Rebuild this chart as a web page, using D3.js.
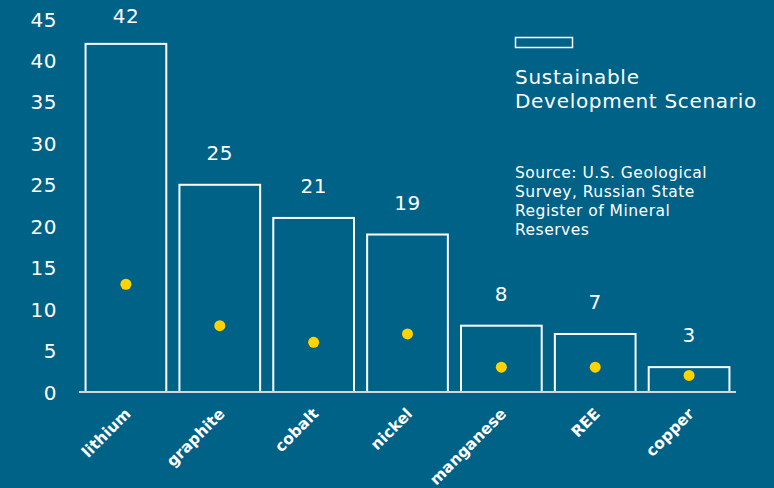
<!DOCTYPE html>
<html><head><meta charset="utf-8">
<script src="https://cdn.jsdelivr.net/npm/d3@7"></script>
<style>html,body{margin:0;padding:0;background:#016287;}svg{display:block;}</style>
</head><body>
<svg id="c" width="774" height="488"></svg>
<script>
const categories = ["lithium","graphite","cobalt","nickel","manganese","REE","copper"];
const sdsValues = [42,25,21,19,8,7,3];
const dotValues = [13,8,6,7,3,3,2];
const yTicks = [0,5,10,15,20,25,30,35,40,45];
const legendLabel = ["Sustainable","Development Scenario"];
const sourceLines = ["Source: U.S. Geological","Survey, Russian State","Register of Mineral","Reserves"];

const svg = d3.select("#c");
const font = "Verdana, 'DejaVu Sans', sans-serif";
svg.append("rect").attr("width",774).attr("height",488).attr("fill","#016287");

const x = d3.scaleBand().domain(categories).range([79,736]).paddingInner(0.14).paddingOuter(0.07);
const y = d3.scaleLinear().domain([0,45]).range([392,19]);

// y axis labels
const ya = svg.append("g").attr("transform","translate(57,0)")
  .call(d3.axisLeft(y).tickValues(yTicks).tickSize(0).tickPadding(0));
ya.select(".domain").remove();
ya.selectAll("text").attr("fill","#fff").attr("font-size",20).attr("font-family",font).attr("dy","0.35em").attr("letter-spacing","0.5px");

// bars
svg.append("g").selectAll("rect").data(categories).join("rect")
  .attr("x",d=>x(d)).attr("width",x.bandwidth())
  .attr("y",(d,i)=>y(sdsValues[i])).attr("height",(d,i)=>y(0)-y(sdsValues[i]))
  .attr("fill","none").attr("stroke","#fff").attr("stroke-width",2);

// baseline
svg.append("line").attr("x1",79).attr("x2",736).attr("y1",y(0)).attr("y2",y(0))
  .attr("stroke","#d4d4d4").attr("stroke-width",2);

// value labels
svg.append("g").selectAll("text").data(categories).join("text")
  .attr("x",d=>x(d)+x.bandwidth()/2).attr("y",(d,i)=>Math.max(y(sdsValues[i])-32,16))
  .attr("dy","0.35em")
  .attr("text-anchor","middle").attr("fill","#fff").attr("font-size",20).attr("font-family",font).attr("letter-spacing","0.5px")
  .text((d,i)=>sdsValues[i]);

// dots
svg.append("g").selectAll("circle").data(categories).join("circle")
  .attr("cx",d=>x(d)+x.bandwidth()/2).attr("cy",(d,i)=>y(dotValues[i]))
  .attr("r",5.5).attr("fill","#FFD200");

// x labels
svg.append("g").selectAll("text").data(categories).join("text")
  .attr("transform",d=>`translate(${x(d)+x.bandwidth()/2+2},${y(0)+19}) rotate(-45)`)
  .attr("text-anchor","end").attr("dy","0.35em").attr("fill","#fff").attr("font-weight","bold")
  .attr("font-size",15.5).attr("font-family",font).text(d=>d);

// legend
svg.append("rect").attr("x",515.5).attr("y",37.5).attr("width",57).attr("height",10)
  .attr("fill","none").attr("stroke","#fff").attr("stroke-width",1.5);
svg.append("g").selectAll("text").data(legendLabel).join("text")
  .attr("x",515).attr("y",(d,i)=>84+i*24).attr("fill","#fff").attr("font-size",20).attr("letter-spacing","0.7px").attr("font-family",font).text(d=>d);
svg.append("g").selectAll("text").data(sourceLines).join("text")
  .attr("x",515).attr("y",(d,i)=>178+i*19).attr("fill","#fff").attr("font-size",15.5).attr("letter-spacing","0.5px").attr("font-family",font).text(d=>d);
</script>
</body></html>
